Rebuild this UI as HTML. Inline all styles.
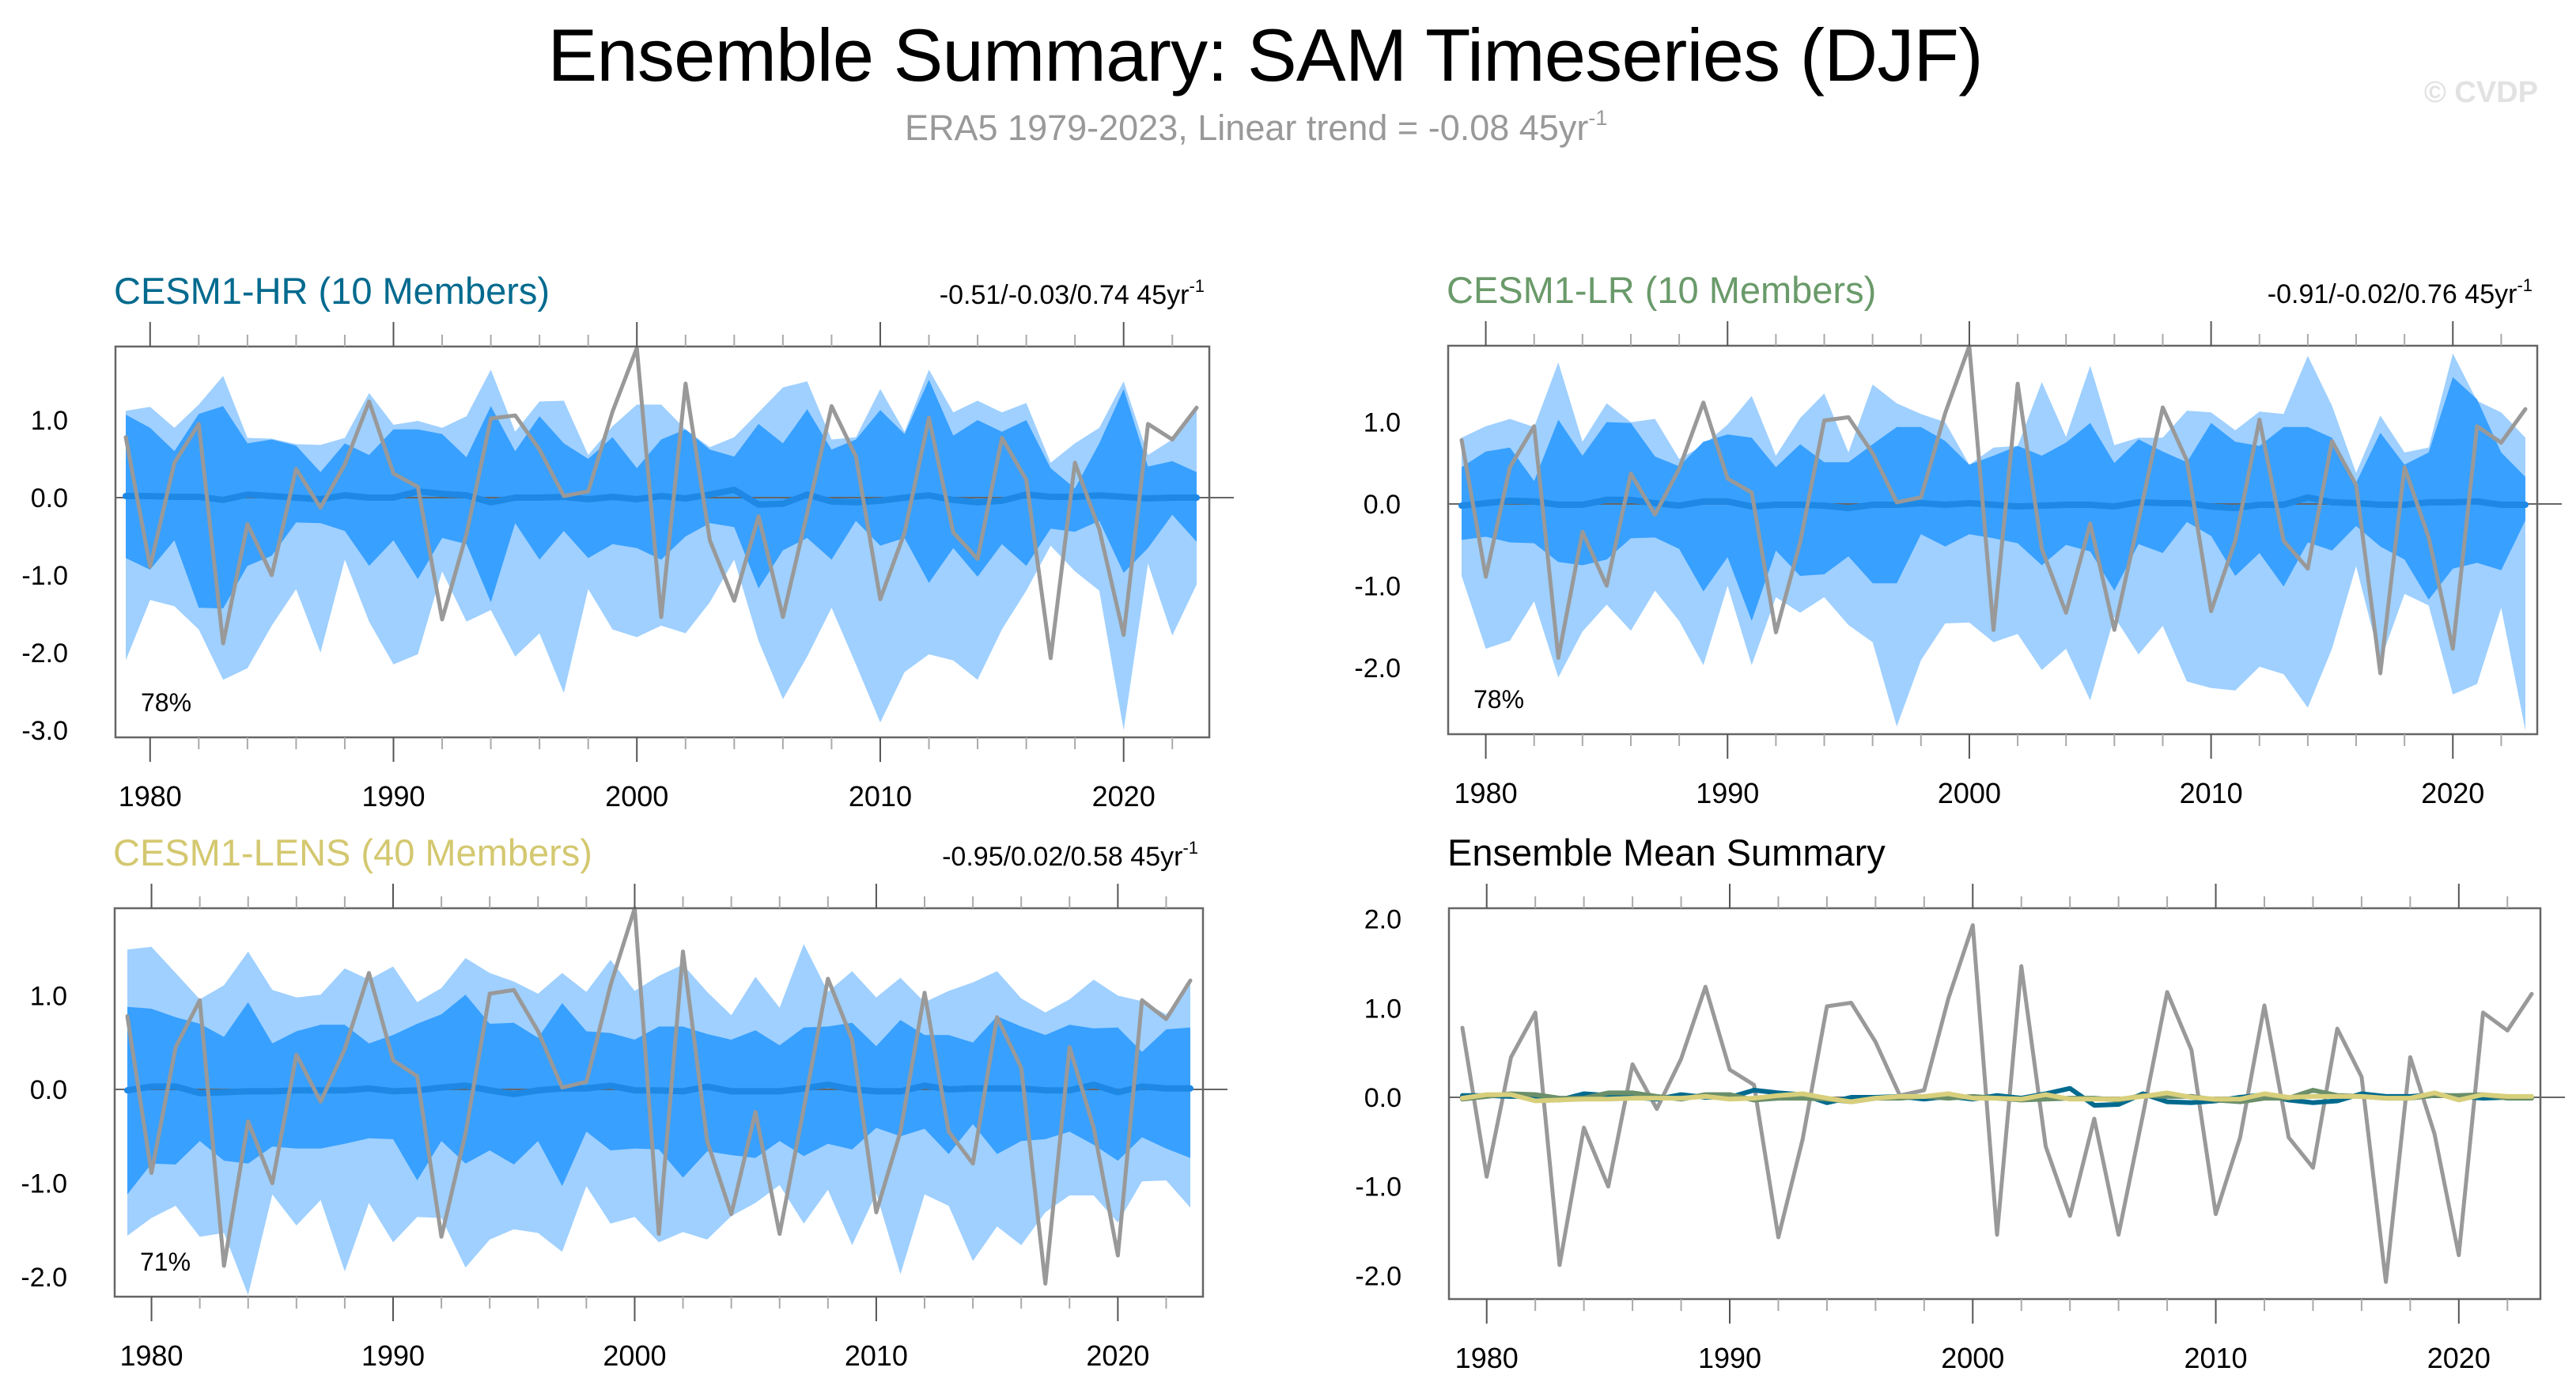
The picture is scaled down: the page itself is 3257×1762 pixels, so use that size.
<!DOCTYPE html>
<html><head><meta charset="utf-8"><style>
html,body{margin:0;padding:0;background:#fff;}
svg{display:block;font-family:"Liberation Sans",Arial,sans-serif;}
</style></head><body>
<svg id="chart" width="3257" height="1762" viewBox="0 0 3257 1762" xmlns="http://www.w3.org/2000/svg">
<text x="1600" y="102" font-size="94" text-anchor="middle" textLength="1815" fill="#000">Ensemble Summary: SAM Timeseries (DJF)</text>
<text x="1144" y="177" font-size="45" fill="#999">ERA5 1979-2023, Linear trend = -0.08 45yr<tspan dy="-19" font-size="27">-1</tspan></text>
<text x="3209" y="129" font-size="38" font-weight="bold" text-anchor="end" fill="#e2e2e2">© CVDP</text>
<g id="plots"></g>
</svg>
<script>
const years = Array.from({length:45},(_,i)=>1979+i);
const era5 = [0.78,-0.89,0.45,0.95,-1.88,-0.34,-1.0,0.37,-0.13,0.43,1.24,0.31,0.14,-1.57,-0.47,1.02,1.06,0.62,0.02,0.08,1.11,1.93,-1.54,1.47,-0.55,-1.33,-0.24,-1.54,-0.2,1.18,0.53,-1.31,-0.45,1.03,-0.45,-0.79,0.77,0.23,-2.07,0.45,-0.41,-1.77,0.95,0.75,1.16];

const hrMax = [1.12,1.17,0.9,1.2,1.57,0.77,0.76,0.69,0.68,0.77,1.35,0.94,0.99,0.9,1.05,1.65,0.85,1.24,1.25,0.55,0.92,1.2,1.2,0.88,0.65,0.78,1.1,1.42,1.5,0.75,0.78,1.4,0.85,1.65,1.1,1.25,1.1,1.22,0.45,0.7,0.9,1.5,0.55,0.75,1.2];
const hrHi = [1.07,0.9,0.6,1.08,1.18,0.7,0.75,0.67,0.33,0.7,0.55,0.88,0.88,0.82,0.52,1.18,0.6,1.05,0.7,0.5,0.78,0.38,0.75,0.88,0.62,0.53,0.95,0.7,1.14,0.62,0.75,1.13,0.82,1.52,0.8,1.0,0.85,1.0,0.38,0.12,0.7,1.4,0.4,0.47,0.33];
const hrLo = [-0.78,-0.93,-0.55,-1.42,-1.43,-0.88,-0.75,-0.32,-0.33,-0.43,-0.88,-0.55,-1.05,-0.52,-0.6,-1.35,-0.33,-0.8,-0.43,-0.78,-0.6,-0.65,-0.8,-0.5,-0.33,-0.38,-1.17,-0.68,-0.52,-0.8,-0.3,-0.62,-0.52,-1.1,-0.65,-1.02,-0.6,-0.88,-0.4,-0.44,-0.3,-0.97,-0.65,-0.22,-0.57];
const hrMin = [-2.1,-1.32,-1.4,-1.7,-2.35,-2.2,-1.65,-1.18,-2.0,-0.8,-1.6,-2.15,-2.02,-0.95,-1.6,-1.45,-2.05,-1.75,-2.52,-1.18,-1.7,-1.8,-1.65,-1.75,-1.35,-0.8,-1.85,-2.6,-2.05,-1.42,-2.15,-2.9,-2.25,-2.02,-2.1,-2.35,-1.7,-1.2,-0.62,-0.95,-1.2,-3.0,-0.85,-1.78,-1.12];
const hrMean = [0.02,0.02,0.01,0.01,-0.03,0.04,0.02,0.0,-0.02,0.03,0.0,0.0,0.08,0.05,0.03,-0.06,0.0,0.0,0.01,-0.02,0.01,-0.02,0.02,-0.01,0.04,0.1,-0.09,-0.08,0.04,-0.05,-0.06,-0.04,0.0,0.03,-0.03,-0.06,-0.04,0.04,0.01,0.01,0.03,0.01,-0.01,0.0,0.0];

const lrMax = [0.81,0.95,1.04,0.94,1.73,0.76,1.23,1.0,1.04,0.55,0.72,0.97,1.32,0.59,1.05,1.35,0.63,1.46,1.23,1.1,1.0,0.48,0.69,0.71,1.49,0.82,1.69,0.72,0.81,0.81,1.14,1.12,0.9,1.13,1.1,1.81,1.2,0.38,1.08,0.63,0.69,1.84,1.26,1.12,0.81];
const lrHi = [0.45,0.64,0.69,0.28,1.03,0.59,1.0,0.99,0.58,0.46,0.76,0.85,0.81,0.45,0.73,0.51,0.51,0.73,0.94,0.94,0.77,0.48,0.59,0.71,0.59,0.75,0.99,0.5,0.79,0.64,0.51,0.99,0.76,0.71,0.94,0.94,0.81,0.26,0.87,0.48,0.63,1.55,1.28,0.63,0.33];
const lrLo = [-0.44,-0.4,-0.47,-0.48,-0.71,-0.75,-0.68,-0.42,-0.41,-0.55,-1.07,-0.65,-1.43,-0.57,-0.88,-0.86,-0.64,-0.97,-0.97,-0.37,-0.52,-0.37,-0.42,-0.48,-0.75,-0.5,-0.58,-1.06,-0.49,-0.6,-0.22,-0.39,-0.88,-0.6,-1.01,-0.47,-0.57,-0.27,-0.52,-0.68,-1.17,-0.79,-0.72,-0.81,-0.2];
const lrMin = [-0.88,-1.77,-1.67,-1.19,-2.12,-1.56,-1.23,-1.55,-1.06,-1.43,-1.97,-1.0,-1.97,-1.14,-1.33,-1.14,-1.48,-1.69,-2.72,-1.91,-1.46,-1.45,-1.69,-1.59,-2.03,-1.77,-2.4,-1.38,-1.84,-1.49,-2.17,-2.25,-2.28,-1.99,-2.08,-2.49,-1.77,-0.76,-1.92,-1.1,-1.24,-2.33,-2.2,-1.27,-2.77];
const lrMean = [-0.02,0.01,0.04,0.03,-0.01,-0.01,0.05,0.05,0.01,-0.02,0.03,0.03,-0.03,-0.01,-0.01,-0.02,-0.05,-0.01,-0.01,0.01,-0.01,0.01,-0.01,-0.03,-0.02,-0.01,-0.01,-0.03,0.02,0.01,0.01,-0.03,-0.05,-0.01,-0.01,0.08,0.02,0.01,-0.01,-0.01,0.02,0.02,0.03,-0.01,-0.01];

const lensMax = [1.49,1.52,1.24,0.96,1.11,1.47,1.06,0.98,1.01,1.29,1.17,1.31,0.93,1.08,1.4,1.24,1.15,1.02,1.24,1.04,1.38,1.05,1.21,1.33,1.04,0.79,1.2,0.87,1.55,1.04,1.26,0.98,1.19,0.93,1.05,1.14,1.26,0.97,0.82,0.96,1.17,1.0,0.94,0.8,1.12];
const lensHi = [0.88,0.86,0.77,0.7,0.56,0.93,0.49,0.62,0.69,0.69,0.49,0.58,0.7,0.8,1.01,0.7,0.71,0.55,0.92,0.62,0.6,0.53,0.67,0.67,0.59,0.53,0.63,0.47,0.66,0.67,0.71,0.46,0.74,0.58,0.58,0.5,0.78,0.67,0.58,0.69,0.65,0.66,0.4,0.64,0.66];
const lensLo = [-1.12,-0.79,-0.8,-0.55,-0.76,-0.79,-0.61,-0.63,-0.63,-0.58,-0.52,-0.53,-0.97,-0.55,-0.79,-0.65,-0.8,-0.55,-1.03,-0.45,-0.65,-0.63,-0.64,-0.94,-0.66,-0.7,-0.73,-0.55,-0.71,-0.58,-0.64,-0.41,-0.5,-0.42,-0.69,-0.37,-0.69,-0.55,-0.53,-0.45,-0.59,-0.76,-0.51,-0.63,-0.73];
const lensMin = [-1.56,-1.37,-1.24,-1.57,-1.53,-2.19,-1.12,-1.45,-1.18,-1.94,-1.21,-1.63,-1.36,-1.37,-1.9,-1.6,-1.49,-1.53,-1.73,-1.03,-1.43,-1.36,-1.63,-1.52,-1.6,-1.35,-1.21,-1.02,-1.43,-1.07,-1.66,-1.11,-1.97,-1.12,-1.24,-1.83,-1.46,-1.66,-1.31,-1.13,-1.13,-1.42,-0.98,-0.97,-1.26];
const lensMean = [-0.01,0.03,0.03,-0.04,-0.03,-0.02,-0.02,-0.01,-0.01,-0.01,0.01,-0.02,-0.01,0.02,0.04,-0.01,-0.05,-0.01,0.01,0.01,0.04,-0.01,-0.01,-0.02,0.03,-0.02,-0.02,-0.02,0.01,0.05,0.0,-0.02,-0.02,0.04,0.0,0.01,0.01,0.01,-0.01,-0.01,0.05,-0.03,0.03,0.01,0.01];

const yTicksHR = [1,0,-1,-2,-3];
const yTicksLR = [1,0,-1,-2];
const yTicksLENS = [1,0,-1,-2];
const yTicksSum = [2,1,0,-1,-2];
const xTickYears = [1980,1990,2000,2010,2020];

const NS='http://www.w3.org/2000/svg';
const root=document.getElementById('plots');
function mk(tag,attrs,parent){const e=document.createElementNS(NS,tag);for(const k in attrs)e.setAttribute(k,attrs[k]);(parent||root).appendChild(e);return e;}

function panel(cfg){
  const g=mk('g',{});
  
  
  const ky=(cfg.y0-cfg.y1)/(cfg.v1-cfg.v0);
  const ys=v=>cfg.y0-(v-cfg.v0)*ky;
  const kx=(cfg.x2-cfg.x1)/(2023-1979);
  const xs=yr=>cfg.x1+(yr-1979)*kx;
  const vmin=cfg.v0-(cfg.y0-cfg.bottom)/ky, vmax=cfg.v0+(cfg.y0-cfg.top)/ky;
  const t=mk('text',{x:cfg.left-2,y:cfg.top-54,'font-size':47,fill:cfg.titleColor},g);
  
  
  t.textContent=cfg.title;
  if(cfg.trend){
    const tr=mk('text',{x:cfg.right-6,y:cfg.top-54,'font-size':34,'text-anchor':'end',fill:'#000'},g);
    
    
    tr.textContent=cfg.trend+' 45yr';
    const sup=mk('tspan',{'font-size':22,dy:-15},tr);sup.textContent='-1';
    
    
  }
  const ptFn=(arr)=>arr.map((v,i)=>xs(years[i]).toFixed(1)+','+ys(v).toFixed(1));
  if(cfg.bands){
    const b=cfg.bands;
    const outer=mk('polygon',{points:ptFn(b.max).concat(ptFn(b.min).reverse()).join(' '),fill:'#9fd0ff'},g);
    
    
    const inner=mk('polygon',{points:ptFn(b.hi).concat(ptFn(b.lo).reverse()).join(' '),fill:'#38a0ff'},g);
    
    
  }
  const z=mk('line',{x1:cfg.left,x2:cfg.right+31,y1:ys(0),y2:ys(0),stroke:'#666','stroke-width':2},g);
  
  
  cfg.lines.forEach(L=>{
    const p=mk('polyline',{points:ptFn(L.data).join(' '),fill:'none',stroke:L.color,'stroke-width':L.w,'stroke-linejoin':'round','stroke-linecap':'round'},g);
    
    
  });
  const f=mk('rect',{x:cfg.left,y:cfg.top,width:cfg.right-cfg.left,height:cfg.bottom-cfg.top,fill:'none',stroke:'#666','stroke-width':2.5},g);
  
  
  for(let yr=1980;yr<=2022;yr+=2){
    const major=yr%10===0, L=major?31:15, x=xs(yr);
    const a=mk('line',{x1:x,x2:x,y1:cfg.top,y2:cfg.top-L,stroke:major?'#555':'#aaa','stroke-width':2},g);
    
    
    const b=mk('line',{x1:x,x2:x,y1:cfg.bottom,y2:cfg.bottom+L,stroke:major?'#555':'#aaa','stroke-width':2},g);
    
    
  }
  xTickYears.forEach(yr=>{
    const tl=mk('text',{x:xs(yr),y:cfg.bottom+87,'font-size':36,'text-anchor':'middle',fill:'#000'},g);
    
    
    tl.textContent=yr;
  });
  for(let k=Math.ceil(vmin*5-1e-6);k<=Math.floor(vmax*5+1e-6);k++){
    const v=k/5, major=k%5===0, L=major?31:15, y=ys(v);
    const a=mk('line',{x1:cfg.left,x2:cfg.left-L,y1:y,y2:y,stroke:major?'#555':'#aaa','stroke-width':2},g);
    
    
    const b=mk('line',{x1:cfg.right,x2:cfg.right+L,y1:y,y2:y,stroke:major?'#555':'#aaa','stroke-width':2},g);
    
    
  }
  cfg.yTicks.forEach(v=>{
    const tl=mk('text',{x:cfg.left-60,y:ys(v)+12,'font-size':34,'text-anchor':'end',fill:'#000'},g);
    
    
    tl.textContent=v.toFixed(1);
  });
  if(cfg.pct){
    const pt=mk('text',{x:cfg.left+32,y:cfg.bottom-33,'font-size':32,fill:'#000'},g);
    
    
    pt.textContent=cfg.pct;
  }
}

panel({name:'cesm1-hr-panel',title:'CESM1-HR (10 Members)',titleColor:'#006a8e',trend:'-0.51/-0.03/0.74',
  left:146,right:1529,top:438,bottom:932,x1:159,x2:1513,y0:629,y1:531,v0:0,v1:1,yTicks:yTicksHR,pct:'78%',
  bands:{max:hrMax,hi:hrHi,lo:hrLo,min:hrMin},
  lines:[{name:'hr-ensemble-mean-line',data:hrMean,color:'#1e88e5',w:8},{name:'era5-line',data:era5,color:'#999',w:5}]});
panel({name:'cesm1-lr-panel',title:'CESM1-LR (10 Members)',titleColor:'#6a9a6a',trend:'-0.91/-0.02/0.76',
  left:1831,right:3208,top:437,bottom:928,x1:1848,x2:3193,y0:637,y1:533.6,v0:0,v1:1,yTicks:yTicksLR,pct:'78%',
  bands:{max:lrMax,hi:lrHi,lo:lrLo,min:lrMin},
  lines:[{name:'lr-ensemble-mean-line',data:lrMean,color:'#1e88e5',w:8},{name:'era5-line',data:era5,color:'#999',w:5}]});
panel({name:'cesm1-lens-panel',title:'CESM1-LENS (40 Members)',titleColor:'#d4c870',trend:'-0.95/0.02/0.58',
  left:145,right:1521,top:1148,bottom:1639,x1:161,x2:1505,y0:1377,y1:1258.4,v0:0,v1:1,yTicks:yTicksLENS,pct:'71%',
  bands:{max:lensMax,hi:lensHi,lo:lensLo,min:lensMin},
  lines:[{name:'lens-ensemble-mean-line',data:lensMean,color:'#1e88e5',w:8},{name:'era5-line',data:era5,color:'#999',w:5}]});
panel({name:'ensemble-mean-summary-panel',title:'Ensemble Mean Summary',titleColor:'#000',trend:null,
  left:1832,right:3212,top:1148,bottom:1642,x1:1849,x2:3201,y0:1387,y1:1274.3,v0:0,v1:1,yTicks:yTicksSum,pct:null,
  lines:[{name:'era5-line',data:era5,color:'#999',w:5},
         {name:'hr-mean-line',data:hrMean,color:'#006a8e',w:6},
         {name:'lr-mean-line',data:lrMean,color:'#6a8f6a',w:6},
         {name:'lens-mean-line',data:lensMean,color:'#d8cf7c',w:6}]});
</script>
</body></html>
